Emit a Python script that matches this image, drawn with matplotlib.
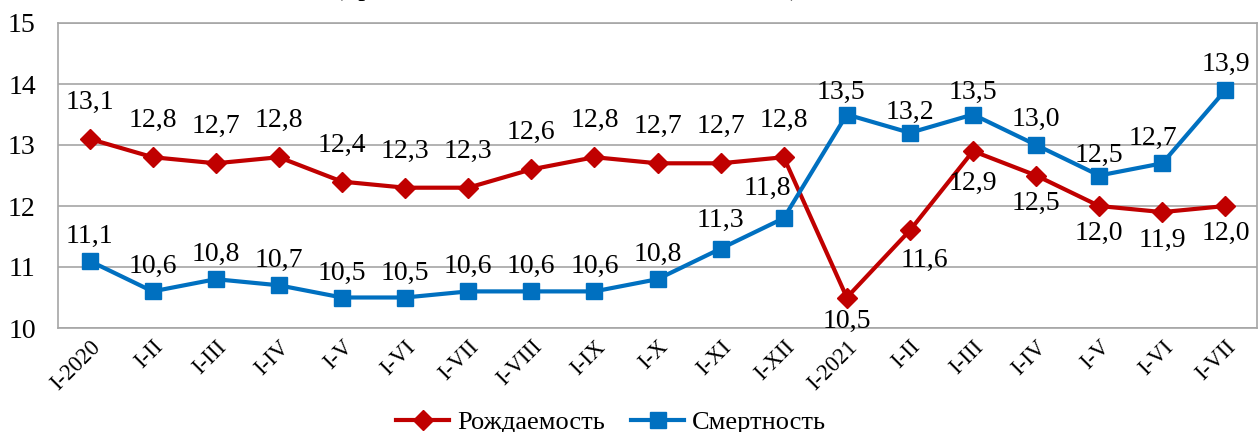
import matplotlib
matplotlib.use("Agg")
import matplotlib.pyplot as plt

categories = ["I-2020", "I-II", "I-III", "I-IV", "I-V", "I-VI", "I-VII", "I-VIII",
              "I-IX", "I-X", "I-XI", "I-XII", "I-2021", "I-II", "I-III", "I-IV",
              "I-V", "I-VI", "I-VII"]
births = [13.1, 12.8, 12.7, 12.8, 12.4, 12.3, 12.3, 12.6, 12.8, 12.7, 12.7, 12.8,
          10.5, 11.6, 12.9, 12.5, 12.0, 11.9, 12.0]
deaths = [11.1, 10.6, 10.8, 10.7, 10.5, 10.5, 10.6, 10.6, 10.6, 10.8, 11.3, 11.8,
          13.5, 13.2, 13.5, 13.0, 12.5, 12.7, 13.9]
series_names = ["Рождаемость", "Смертность"]
title_text = "(промилле, на 1000 человек населения)"

plt.rcParams['font.family'] = ['Liberation Serif', 'DejaVu Serif']

fig = plt.figure(figsize=(12.59, 4.32), dpi=100)
ax = fig.add_axes([58/1259, 104/432, (1257-58)/1259, (328-23)/432])

x = list(range(len(categories)))
red = "#C00000"
blue = "#0070C0"
ax.plot(x, births, color=red, lw=3, marker='D', ms=10, label=series_names[0], zorder=3)
ax.plot(x, deaths, color=blue, lw=3, marker='s', ms=11, label=series_names[1], zorder=3)

def fmt(v):
    return f"{v:.1f}".replace(".", ",")

# label offsets in pixels (dx, dy, va)
b_off = [(0, 24, 'bottom')] * 12 + [(0, -11, 'top'), (15, -18, 'top'), (0, -20, 'top'),
                                    (0, -15, 'top'), (0, -15, 'top'), (0, -16, 'top'), (0, -15, 'top')]
d_off = [(0, 12, 'bottom')] * 10 + [(0, 16, 'bottom'), (-16, 17, 'bottom'), (-6, 10, 'bottom'),
                                    (0, 8, 'bottom'), (0, 10, 'bottom'), (0, 13, 'bottom'),
                                    (0, 8, 'bottom'), (-9, 12, 'bottom'), (0, 13, 'bottom')]
for i, v in enumerate(births):
    dx, dy, va = b_off[i]
    ax.annotate(fmt(v), (i, v), xytext=(dx, dy), textcoords='offset pixels',
                ha='center', va=va, fontsize=20, zorder=4)
for i, v in enumerate(deaths):
    dx, dy, va = d_off[i]
    ax.annotate(fmt(v), (i, v), xytext=(dx, dy), textcoords='offset pixels',
                ha='center', va=va, fontsize=20, zorder=4)

ax.set_xlim(-0.5, len(categories) - 0.5)
ax.set_ylim(10, 15)
ax.set_yticks([10, 11, 12, 13, 14, 15])
ax.set_xticks(x)
ax.set_xticklabels(categories, rotation=45, ha='right', rotation_mode='anchor', fontsize=16.5)
ax.tick_params(axis='y', labelsize=20, length=0, pad=16)
ax.tick_params(axis='x', length=0, pad=6)
ax.grid(axis='y', color='#A6A6A6', lw=1.2)
ax.set_axisbelow(True)
for s in ax.spines.values():
    s.set_color('#A6A6A6')
    s.set_linewidth(1.2)

fig.legend(loc='lower center', bbox_to_anchor=(0.4855, -0.06), ncol=2, frameon=False,
           fontsize=19, handlelength=2.0, columnspacing=1.0, handletextpad=0.3)

fig.text(0.45, 1.012, title_text, ha='center', va='baseline', fontsize=20)

fig.savefig("out.png", dpi=100)
